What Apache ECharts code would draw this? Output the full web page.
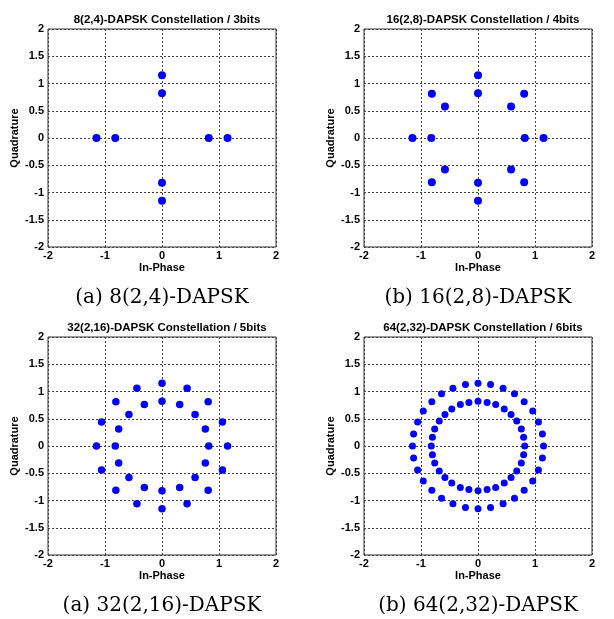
<!DOCTYPE html>
<html><head><meta charset="utf-8">
<script src="https://cdn.jsdelivr.net/npm/echarts@6/dist/echarts.min.js"></script>
<style>html,body{margin:0;padding:0;background:#fff}#c{width:614px;height:619px}</style>
</head><body><div id="c"></div>
<script>
// ---- data ----
const titles = ['8(2,4)-DAPSK Constellation / 3bits','16(2,8)-DAPSK Constellation / 4bits','32(2,16)-DAPSK Constellation / 5bits','64(2,32)-DAPSK Constellation / 6bits'];
const captions = ['(a) 8(2,4)-DAPSK','(b) 16(2,8)-DAPSK','(a) 32(2,16)-DAPSK','(b) 64(2,32)-DAPSK'];
const xTicks = [-2,-1,0,1,2];
const yTicks = [-2,-1.5,-1,-0.5,0,0.5,1,1.5,2];

const I8 = [1.15,0.82,0,0,-0.82,-1.15,0,0];
const Q8 = [0,0,0.82,1.15,0,0,-0.82,-1.15];

const I16 = [0.82,0.58,0,-0.58,-0.82,-0.58,0,0.58, 1.15,0.81,0,-0.81,-1.15,-0.81,0,0.81];
const Q16 = [0,0.58,0.82,0.58,0,-0.58,-0.82,-0.58, 0,0.81,1.15,0.81,0,-0.81,-1.15,-0.81];

const I32 = [0.82,0.76,0.58,0.31,0,-0.31,-0.58,-0.76,-0.82,-0.76,-0.58,-0.31,0,0.31,0.58,0.76,
             1.15,1.06,0.81,0.44,0,-0.44,-0.81,-1.06,-1.15,-1.06,-0.81,-0.44,0,0.44,0.81,1.06];
const Q32 = [0,0.31,0.58,0.76,0.82,0.76,0.58,0.31,0,-0.31,-0.58,-0.76,-0.82,-0.76,-0.58,-0.31,
             0,0.44,0.81,1.06,1.15,1.06,0.81,0.44,0,-0.44,-0.81,-1.06,-1.15,-1.06,-0.81,-0.44];

const I64 = [0.82,0.80,0.76,0.68,0.58,0.46,0.31,0.16,0,-0.16,-0.31,-0.46,-0.58,-0.68,-0.76,-0.80,-0.82,-0.80,-0.76,-0.68,-0.58,-0.46,-0.31,-0.16,0,0.16,0.31,0.46,0.58,0.68,0.76,0.80,
             1.15,1.13,1.06,0.96,0.81,0.64,0.44,0.22,0,-0.22,-0.44,-0.64,-0.81,-0.96,-1.06,-1.13,-1.15,-1.13,-1.06,-0.96,-0.81,-0.64,-0.44,-0.22,0,0.22,0.44,0.64,0.81,0.96,1.06,1.13];
const Q64 = [0,0.16,0.31,0.46,0.58,0.68,0.76,0.80,0.82,0.80,0.76,0.68,0.58,0.46,0.31,0.16,0,-0.16,-0.31,-0.46,-0.58,-0.68,-0.76,-0.80,-0.82,-0.80,-0.76,-0.68,-0.58,-0.46,-0.31,-0.16,
             0,0.22,0.44,0.64,0.81,0.96,1.06,1.13,1.15,1.13,1.06,0.96,0.81,0.64,0.44,0.22,0,-0.22,-0.44,-0.64,-0.81,-0.96,-1.06,-1.13,-1.15,-1.13,-1.06,-0.96,-0.81,-0.64,-0.44,-0.22];

const sets = [[I8,Q8],[I16,Q16],[I32,Q32],[I64,Q64]];

// ---- layout ----
const grids = [
  {left:48, top:29, width:228, height:218},
  {left:364, top:29, width:228, height:218},
  {left:48, top:337, width:228, height:218},
  {left:364, top:337, width:228, height:218}
];
const symSizes = [8,8,7.5,7];

const chart = echarts.init(document.getElementById('c'), null, {renderer:'canvas'});
const axisFont = {fontFamily:'Liberation Sans, Arial', fontWeight:'bold', fontSize:11, color:'#000'};
const option = {
  backgroundColor:'#fff',
  animation:false,
  title: [],
  grid: [],
  xAxis: [],
  yAxis: [],
  series: [],
  graphic: []
};
grids.forEach((g,k)=>{
  option.grid.push(Object.assign({show:true, borderColor:'#333', borderWidth:1, backgroundColor:'#fff', containLabel:false}, g));
  option.title.push({
    text: titles[k], left: g.left + g.width/2, top: g.top - 20, textAlign:'center',
    textStyle:{fontFamily:'Liberation Sans, Arial', fontWeight:'bold', fontSize:11.5, color:'#000'}
  });
  option.xAxis.push({
    type:'value', gridIndex:k, min:-2, max:2, interval:1,
    name:'In-Phase', nameLocation:'middle', nameGap:15,
    nameTextStyle:{fontFamily:'Liberation Sans, Arial', fontWeight:'bold', fontSize:11, color:'#000'},
    axisLine:{show:false}, axisTick:{show:false},
    axisLabel:Object.assign({margin:3, formatter:v=>String(v)}, axisFont),
    splitLine:{show:true, lineStyle:{color:'#444', type:[2,2], width:1}}
  });
  option.yAxis.push({
    type:'value', gridIndex:k, min:-2, max:2, interval:0.5,
    name:'Quadrature', nameLocation:'middle', nameGap:28, nameRotate:90,
    nameTextStyle:{fontFamily:'Liberation Sans, Arial', fontWeight:'bold', fontSize:11, color:'#000'},
    axisLine:{show:false}, axisTick:{show:false},
    axisLabel:Object.assign({margin:4, formatter:v=>String(v)}, axisFont),
    splitLine:{show:true, lineStyle:{color:'#444', type:[2,2], width:1}}
  });
  const [I,Q] = sets[k];
  option.series.push({
    type:'scatter', xAxisIndex:k, yAxisIndex:k, symbol:'circle', symbolSize:symSizes[k],
    itemStyle:{color:'#0000ff', opacity:1}, z:5,
    data: I.map((v,i)=>[v,Q[i]])
  });
  option.graphic.push({
    type:'text', x: g.left + g.width/2, y: g.top + g.height + 51, z:10,
    style:{text:captions[k], x:0, y:0, textAlign:'center', textVerticalAlign:'middle',
      font:'20px "DejaVu Serif", "Liberation Serif", serif', fill:'#000'}
  });
});
chart.setOption(option);
</script>
</body></html>
